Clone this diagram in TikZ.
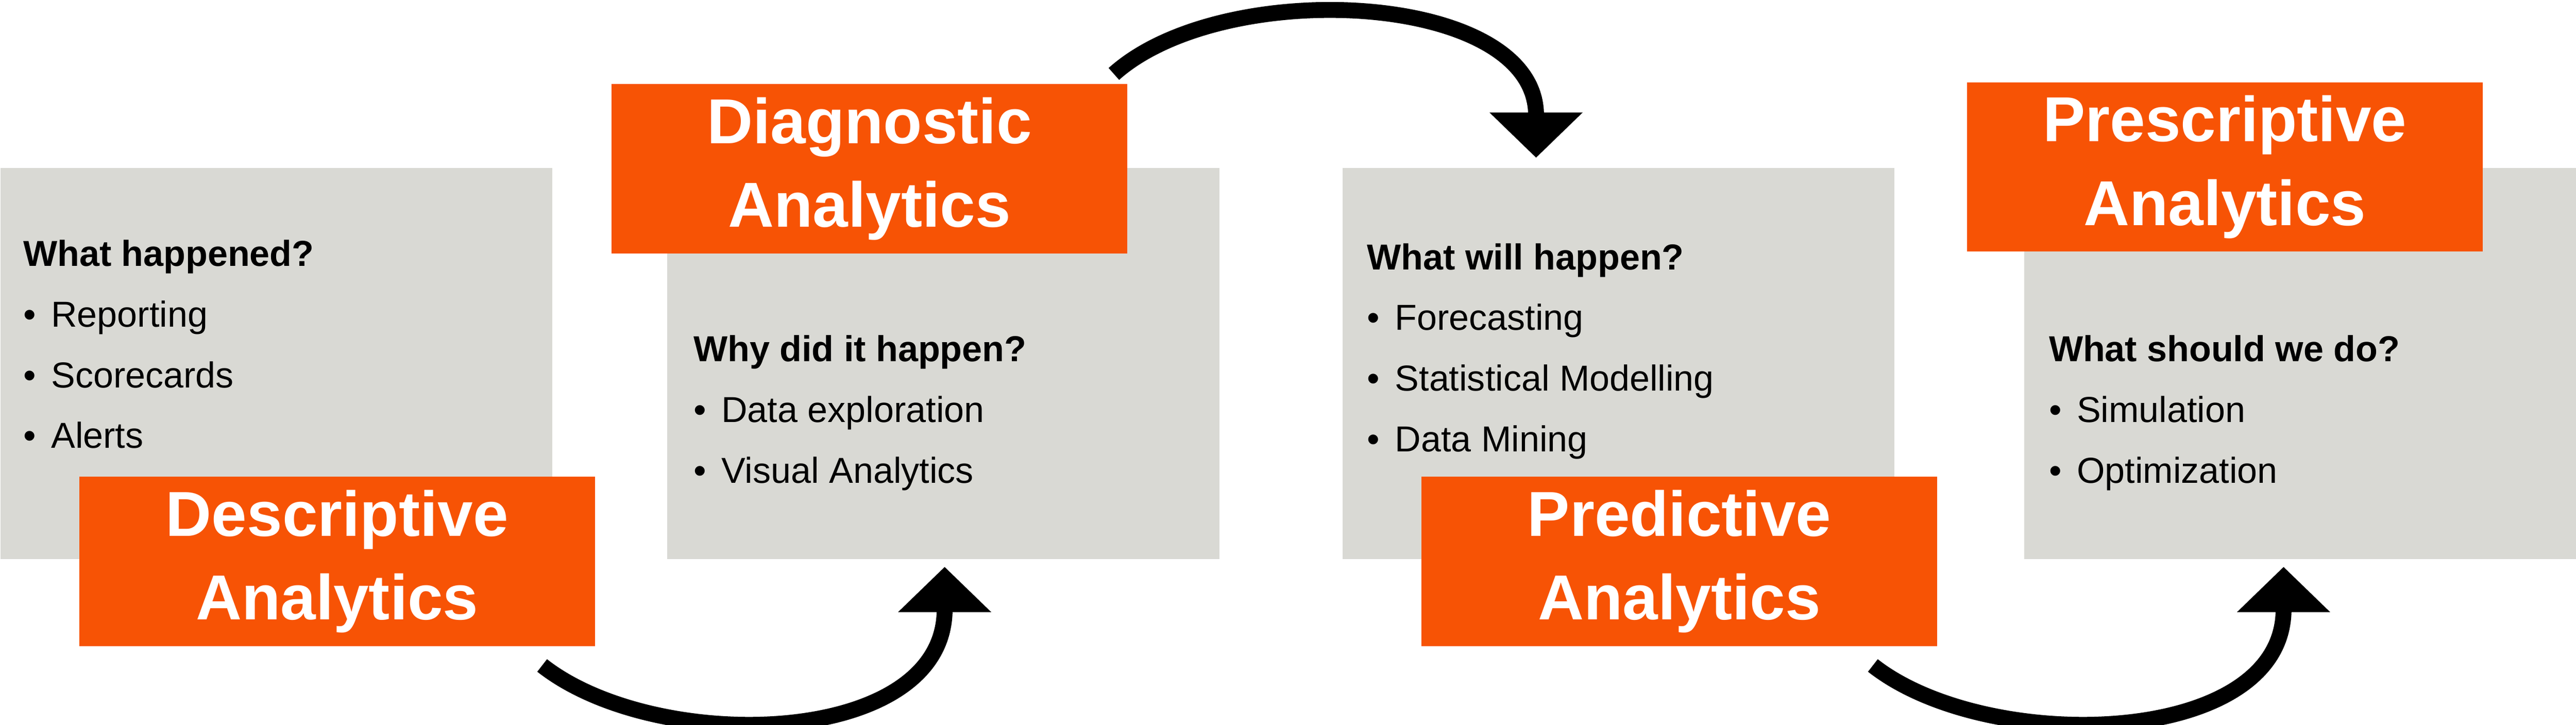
\documentclass[tikz,border=0pt]{standalone}
\usepackage{fontspec}
\setmainfont{Liberation Sans}
\usetikzlibrary{arrows.meta,positioning}
\definecolor{boxgray}{HTML}{D9D9D4}
\definecolor{boxorange}{HTML}{F75305}
\newcommand{\itm}[1]{\makebox[0.68cm][l]{•}#1}
\tikzset{
  graybox/.style={fill=boxgray, minimum width=13.44cm, minimum height=9.52cm, anchor=north west, inner sep=0},
  titlebox/.style={fill=boxorange, minimum width=12.56cm, minimum height=4.12cm, anchor=north west, inner sep=0,
    text=white, align=center, font=\bfseries\fontsize{44}{58}\selectfont},
  listtext/.style={anchor=north west, inner sep=0, align=left, font=\fontsize{25}{42}\selectfont},
  flowarrow/.style={line width=11pt, -{Triangle[length=1.1cm,width=2.2cm]}}
}
\begin{document}
\begin{tikzpicture}[x=0.04cm,y=-0.04cm]
\useasboundingbox (0,0) rectangle (1568,441);

% gray panels
\node[graybox] (g1) at (0,102) {};
\node[graybox] (g2) at (406,102) {};
\node[graybox] (g3) at (817,102) {};
\node[graybox] (g4) at (1232,102) {};

% orange titles
\node[titlebox] (desc) at (48,290) {Descriptive\\Analytics};
\node[titlebox] (diag) at (372,51) {Diagnostic\\Analytics};
\node[titlebox] (pred) at (865,290) {Predictive\\Analytics};
\node[titlebox] (pres) at (1197,50) {Prescriptive\\Analytics};

% lists
\node[listtext] (l1) at (14,146) {\textbf{What happened?}\\\itm{Reporting}\\\itm{Scorecards}\\\itm{Alerts}};
\node[listtext] (l2) at (422,204) {\textbf{Why did it happen?}\\\itm{Data exploration}\\\itm{Visual Analytics}};
\node[listtext] (l3) at (832,148) {\textbf{What will happen?}\\\itm{Forecasting}\\\itm{Statistical Modelling}\\\itm{Data Mining}};
\node[listtext] (l4) at (1247,204) {\textbf{What should we do?}\\\itm{Simulation}\\\itm{Optimization}};

% arrows
\coordinate (a1s) at (330,405);
\coordinate (a1e) at (575,345);
\coordinate (a2s) at (678,45);
\coordinate (a2e) at (935,96);
\coordinate (a3s) at (1140,405);
\coordinate (a3e) at (1390,345);
\draw[flowarrow] (a1s) .. controls (400,460) and (575,455) .. (a1e);
\draw[flowarrow] (a2s) .. controls (745,-15) and (935,-5) .. (a2e);
\draw[flowarrow] (a3s) .. controls (1210,460) and (1390,455) .. (a3e);
\end{tikzpicture}
\end{document}
